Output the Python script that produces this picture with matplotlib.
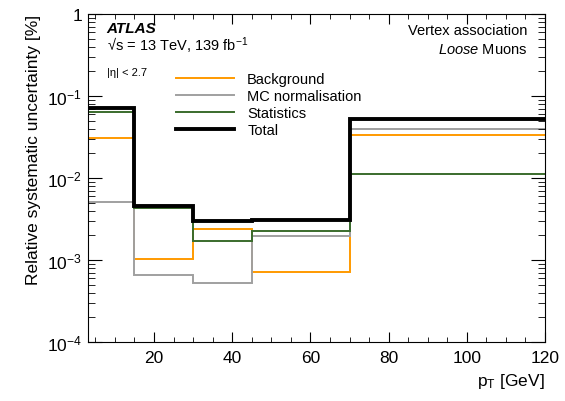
import numpy as np
import matplotlib
matplotlib.use('Agg')
import matplotlib.pyplot as plt
from matplotlib.ticker import MultipleLocator, FixedLocator, FixedFormatter, LogLocator, NullFormatter

plt.rcParams['font.family'] = ['Liberation Sans', 'DejaVu Sans']
plt.rcParams['mathtext.fontset'] = 'custom'
plt.rcParams['mathtext.rm'] = 'Liberation Sans'
plt.rcParams['mathtext.it'] = 'Liberation Sans:italic'
plt.rcParams['mathtext.bf'] = 'Liberation Sans:bold'

# bins en pT [GeV]
edges = [3, 15, 30, 45, 70, 120]

# incertitudes relatives par bin
background = [0.031, 0.00103, 0.00239, 0.00072, 0.0334]
mc_norm = [0.0051, 0.00066, 0.00053, 0.00195, 0.0396]
statistics = [0.0644, 0.00434, 0.00169, 0.00228, 0.0112]
total = [0.0708, 0.0046, 0.0030, 0.0031, 0.0524]

labels = ['Background', 'MC normalisation', 'Statistics', 'Total']

fig = plt.figure(figsize=(5.65, 4.02), dpi=100)
ax = fig.add_axes([0.155, 0.1468, 0.8096, 0.8159])

ax.stairs(background, edges, baseline=None, color='#ff9a00', lw=1.4, label=labels[0])
ax.stairs(mc_norm, edges, baseline=None, color='#a0a0a0', lw=1.4, label=labels[1])
ax.stairs(statistics, edges, baseline=None, color='#3a6b2c', lw=1.4, label=labels[2])
ax.stairs(total, edges, baseline=None, color='black', lw=2.8, label=labels[3])

ax.set_yscale('log')
ax.set_xlim(3, 120)
ax.set_ylim(1e-4, 1)

# ticks style ROOT
ax.xaxis.set_major_locator(MultipleLocator(20))
ax.xaxis.set_minor_locator(MultipleLocator(5))
ax.yaxis.set_major_locator(FixedLocator([1e-4, 1e-3, 1e-2, 1e-1, 1]))
ax.yaxis.set_major_formatter(FixedFormatter(['$10^{-4}$', '$10^{-3}$', '$10^{-2}$', '$10^{-1}$', '1']))
ax.yaxis.set_minor_locator(LogLocator(base=10, subs=np.arange(2, 10)))
ax.yaxis.set_minor_formatter(NullFormatter())
ax.tick_params(which='both', direction='in', top=True, right=True, labelsize=12.5)
ax.tick_params(axis='x', which='major', length=7.5, pad=6)
ax.tick_params(axis='x', which='minor', length=3.8)
ax.tick_params(axis='y', which='major', length=10, pad=4)
ax.tick_params(axis='y', which='minor', length=5)

ax.set_xlabel('p$_\\mathregular{T}$ [GeV]', fontsize=12.5, loc='right')
ax.set_ylabel('Relative systematic uncertainty [%]', fontsize=12.5, loc='top')

ax.text(0.042, 0.946, 'ATLAS', transform=ax.transAxes, fontsize=11, fontweight='bold', style='italic')
ax.text(0.042, 0.89, '√s = 13 TeV, 139 fb$^{-1}$', transform=ax.transAxes, fontsize=10.5)
ax.text(0.042, 0.814, '|η| < 2.7', transform=ax.transAxes, fontsize=8)
ax.text(0.961, 0.939, 'Vertex association', transform=ax.transAxes, fontsize=10.5, ha='right')
ax.text(0.961, 0.881, '$\\it{Loose}$ Muons', transform=ax.transAxes, fontsize=10.5, ha='right')

ax.legend(loc='upper left', bbox_to_anchor=(0.18, 0.84), frameon=False, fontsize=10.5,
          handlelength=4.0, handletextpad=0.9, labelspacing=0.2, borderaxespad=0)

fig.savefig('out.png', dpi=100)
